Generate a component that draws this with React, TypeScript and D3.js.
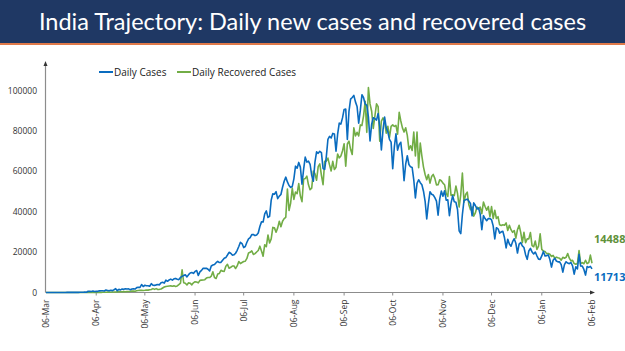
import { useEffect } from 'react';
import * as d3 from 'd3';

// daily values from 06-Mar-2020 to 06-Feb-2021
const dailyCases = [
  // Mar
  2, 1, 3, 5, 9, 15, 7, 8, 13, 17, 11, 26, 35, 50, 75, 69, 103, 86, 66, 88, 75, 149, 130, 106, 227, 146,
  // Apr
  601, 545, 478, 693, 490, 573, 565, 813, 871, 854, 758, 1248, 1034, 835, 1108, 922, 1370, 1893, 924, 1541,
  1290, 1707, 1561, 1873, 1738, 1801, 1396, 1697, 1823, 1718,
  // May
  2411, 2608, 2487, 3932, 2963, 3587, 3364, 3344, 3113, 4353, 3607, 3524, 3763, 3942, 3787, 4864, 5050, 4630, 6147, 5553,
  6198, 6629, 6154, 6767, 6977, 6535, 6387, 7466, 7964, 8380, 8789,
  // Jun
  7723, 8821, 9633, 9889, 9471, 10438, 10864, 8442, 10218, 10956, 12023, 11929, 12000, 11502, 10667, 13103, 13586, 13827, 14740, 15413,
  14821, 14933, 15968, 16922, 17296, 18552, 19906, 19459, 18522, 18653,
  // Jul
  19428, 20903, 22771, 24850, 24248, 22252, 22752, 24879, 26506, 27114, 28637, 28701, 28178, 28498, 29429, 32695, 34956, 34884, 38902, 40425,
  37148, 37724, 45720, 48916, 48661, 49931, 46484, 47703, 48513, 52123, 55078,
  // Aug
  57118, 54735, 52972, 52050, 52509, 56282, 62538, 61537, 64399, 62064, 53601, 60963, 66999, 64553, 65002, 63489, 57981, 55079, 64531, 69652,
  68898, 69878, 69239, 61408, 60975, 67151, 75760, 77266, 76472, 78761, 78512,
  // Sep
  69921, 78357, 83883, 83341, 86432, 90632, 90802, 75809, 89706, 95735, 96551, 97570, 94372, 92071, 83809, 90123, 97894, 96424, 93337, 92605,
  86961, 75083, 83347, 86508, 86052, 85362, 88600, 82170, 70589, 80472,
  // Oct
  86821, 81484, 79476, 75829, 74442, 61267, 72049, 78524, 70496, 73272, 74383, 66732, 55342, 63509, 67708, 63371, 62212, 61871, 55722, 46790,
  54044, 55838, 54366, 53370, 50129, 45148, 36470, 43893, 49881, 48648, 48268,
  // Nov
  46963, 45231, 38310, 46253, 50210, 47638, 50357, 45674, 45903, 38073, 44281, 47905, 44879, 44684, 41100, 30548, 29164, 38617, 45576, 45882,
  46232, 45209, 44059, 37975, 44376, 43082, 41322, 41810, 38772, 31118,
  // Dec
  38034, 36604, 35551, 36595, 36652, 36011, 32981, 26567, 32080, 31522, 29398, 30006, 30254, 27071, 22065, 26382, 24010, 22890, 25152, 26624,
  24337, 19556, 23950, 24712, 23067, 22273, 18732, 16432, 20550, 21822, 20036,
  // Jan
  19079, 20035, 18177, 16504, 16375, 18088, 20346, 18139, 18222, 18645, 16311, 12584, 15968, 16946, 15590, 15158, 15144, 13788, 10064, 13823,
  15223, 14545, 14256, 14849, 13203, 9102, 12689, 11666, 18855, 13083, 13052,
  // Feb
  11427, 8635, 12899, 12408, 12923, 11713,
];

const dailyRecovered = [
  // Mar
  0, 0, 0, 0, 1, 0, 6, 0, 1, 2, 0, 1, 0, 1, 5, 1, 3, 1, 0, 11, 5, 23, 16, 6, 21, 10,
  // Apr
  42, 22, 45, 30, 14, 47, 56, 70, 42, 102, 134, 138, 207, 189, 149, 218, 252, 256, 308, 356,
  389, 395, 491, 377, 499, 520, 584, 684, 690, 630,
  // May
  886, 1000, 1074, 1061, 1020, 1111, 1273, 1166, 1380, 1511, 1931, 1538, 1930, 1480, 1563, 1749, 2233, 2715, 3002, 3113,
  3234, 3280, 3073, 3285, 3001, 3251, 3935, 4614, 11264, 4835, 4614,
  // Jun
  3708, 4776, 4611, 3804, 4773, 5355, 5220, 4785, 5991, 6107, 6166, 6348, 7135, 7390, 7419, 8048, 10215, 7390, 6922, 9120,
  9440, 10994, 10495, 10463, 13012, 13940, 12010, 12493, 13099, 13157,
  // Jul
  11881, 13157, 15350, 14335, 14856, 15350, 15515, 16883, 19547, 19873, 20572, 18850, 19235, 20032, 20783, 22942, 20572, 17994, 23672, 22664,
  28472, 24491, 26552, 32223, 31991, 29814, 31991, 35286, 32553, 35286, 36569,
  // Aug
  37223, 51255, 40574, 44306, 51706, 46121, 49769, 48900, 53879, 47746, 44996, 56110, 56383, 57584, 53322, 50921, 51706, 60091, 58794, 55573,
  62282, 63631, 57989, 53413, 64935, 65050, 66550, 63173, 60177, 64935, 60868,
  // Sep
  62026, 68584, 66659, 67568, 70072, 73642, 62578, 73521, 74894, 70880, 68372, 81533, 77512, 79292, 77512, 82961, 82719, 87472, 94612, 79292,
  101468, 93356, 89746, 81177, 87374, 93420, 92043, 74893, 84877, 86428,
  // Oct
  84877, 78877, 82260, 76737, 82260, 83011, 82203, 82753, 78365, 89154, 84911, 81514, 79415, 81541, 77760, 70816, 72614, 70338, 79415, 67549,
  79415, 61775, 73979, 67549, 62077, 58439, 55838, 58439, 54157, 57386, 58439,
  // Nov
  56480, 53285, 53357, 55838, 55331, 54157, 53357, 49082, 47528, 57386, 47992, 48405, 47992, 52718, 49079, 42314, 48493, 59105, 44739, 48493,
  49715, 43493, 41024, 42314, 37816, 39379, 42314, 41452, 42298, 39045,
  // Dec
  44739, 42553, 40726, 42553, 37528, 42533, 36635, 40726, 36635, 37528, 33494, 33136, 33494, 33291, 34477, 30695, 33291, 31087, 29791, 30695,
  26895, 31087, 33291, 29791, 24661, 29791, 24661, 26572, 26572, 29690, 23181,
  // Jan
  22650, 25476, 21314, 22926, 29091, 21314, 20549, 20346, 19253, 19299, 18902, 17817, 18385, 16977, 17497, 17170, 16977, 15975, 17411, 16988,
  17411, 19299, 16988, 15656, 15901, 14301, 13965, 14301, 20746, 14301, 14808,
  // Feb
  14225, 15975, 14301, 14808, 18500, 14488,
];

const monthLabels = ['06-Mar', '06-Apr', '06-May', '06-Jun', '06-Jul', '06-Aug', '06-Sep', '06-Oct', '06-Nov', '06-Dec', '06-Jan', '06-Feb'];
const yTicks = [0, 20000, 40000, 60000, 80000, 100000];
const startDate = new Date(2020, 2, 6);

const W = 625;
const H = 351;
const BLUE = '#0a6cbf';
const GREEN = '#72ad46';

export default function App() {
  useEffect(() => {
    document.body.style.margin = '0';
  }, []);

  const dayDate = (i: number) => d3.timeDay.offset(startDate, i);
  const tickDates = monthLabels.map((_, i) => d3.timeMonth.offset(startDate, i));

  const x = d3.scaleTime()
    .domain([startDate, tickDates[tickDates.length - 1]])
    .range([46, 592]);
  const y = d3.scaleLinear().domain([0, 100000]).range([292.5, 90.5]);

  const line = d3.line<number>()
    .x((_, i) => x(dayDate(i)))
    .y((d) => y(d));

  const x0 = 45.5;
  const y0 = 292.5;
  const axisColor = '#8c8c8c';
  const font = '"Open Sans", sans-serif';

  return (
    <svg width={W} height={H} style={{ display: 'block', background: '#fff' }}>
      {/* title band */}
      <rect x={0} y={0} width={W} height={43} fill="#1f3864" />
      <rect x={0} y={43} width={W} height={2} fill="#e07a4a" />
      <text x={W / 2} y={30} textAnchor="middle" fill="#fff" fontFamily="Lato, sans-serif" fontSize={23.5}>
        India Trajectory: Daily new cases and recovered cases
      </text>

      {/* legend */}
      <line x1={99} x2={113} y1={72} y2={72} stroke={BLUE} strokeWidth={2} />
      <text x={114} y={75.5} fontFamily={font} fontSize={10} fill="#222">Daily Cases</text>
      <line x1={177} x2={191} y1={72} y2={72} stroke={GREEN} strokeWidth={2} />
      <text x={192} y={75.5} fontFamily={font} fontSize={10} fill="#222">Daily Recovered Cases</text>

      {/* y axis */}
      <line x1={x0} x2={x0} y1={y0} y2={64} stroke={axisColor} strokeWidth={1.2} />
      <path d={`M${x0 - 2},${66} L${x0},${61} L${x0 + 2},${66} Z`} fill="#333" />
      {yTicks.map((t) => (
        <text key={t} x={37} y={y(t) + 3} textAnchor="end" fontFamily={font} fontSize={8.5} fill="#333">{t}</text>
      ))}

      {/* x axis */}
      <line x1={x0} x2={593} y1={y0} y2={y0} stroke={axisColor} strokeWidth={1.2} />
      <path d={`M${590},${y0 - 2} L${595},${y0} L${590},${y0 + 2} Z`} fill="#333" />
      {tickDates.map((d, i) => (
        <g key={monthLabels[i]} transform={`translate(${x(d)},0)`}>
          {i > 0 && i < tickDates.length - 1 && (
            <line x1={0} x2={0} y1={y0} y2={y0 + 3} stroke={axisColor} />
          )}
          <text transform={`translate(3,${y0 + 7}) rotate(-90)`} textAnchor="end"
            fontFamily={font} fontSize={8.5} fill="#333">{monthLabels[i]}</text>
        </g>
      ))}

      {/* series */}
      <path d={line(dailyRecovered) || ''} fill="none" stroke={GREEN} strokeWidth={1.6} strokeLinejoin="round" />
      <path d={line(dailyCases) || ''} fill="none" stroke={BLUE} strokeWidth={1.6} strokeLinejoin="round" />

      {/* end labels */}
      <text x={594} y={243} fontFamily={font} fontSize={11} fontWeight="bold" fill="#5f913a">
        {dailyRecovered[dailyRecovered.length - 1]}
      </text>
      <text x={594} y={281} fontFamily={font} fontSize={11} fontWeight="bold" fill={BLUE}>
        {dailyCases[dailyCases.length - 1]}
      </text>
    </svg>
  );
}
